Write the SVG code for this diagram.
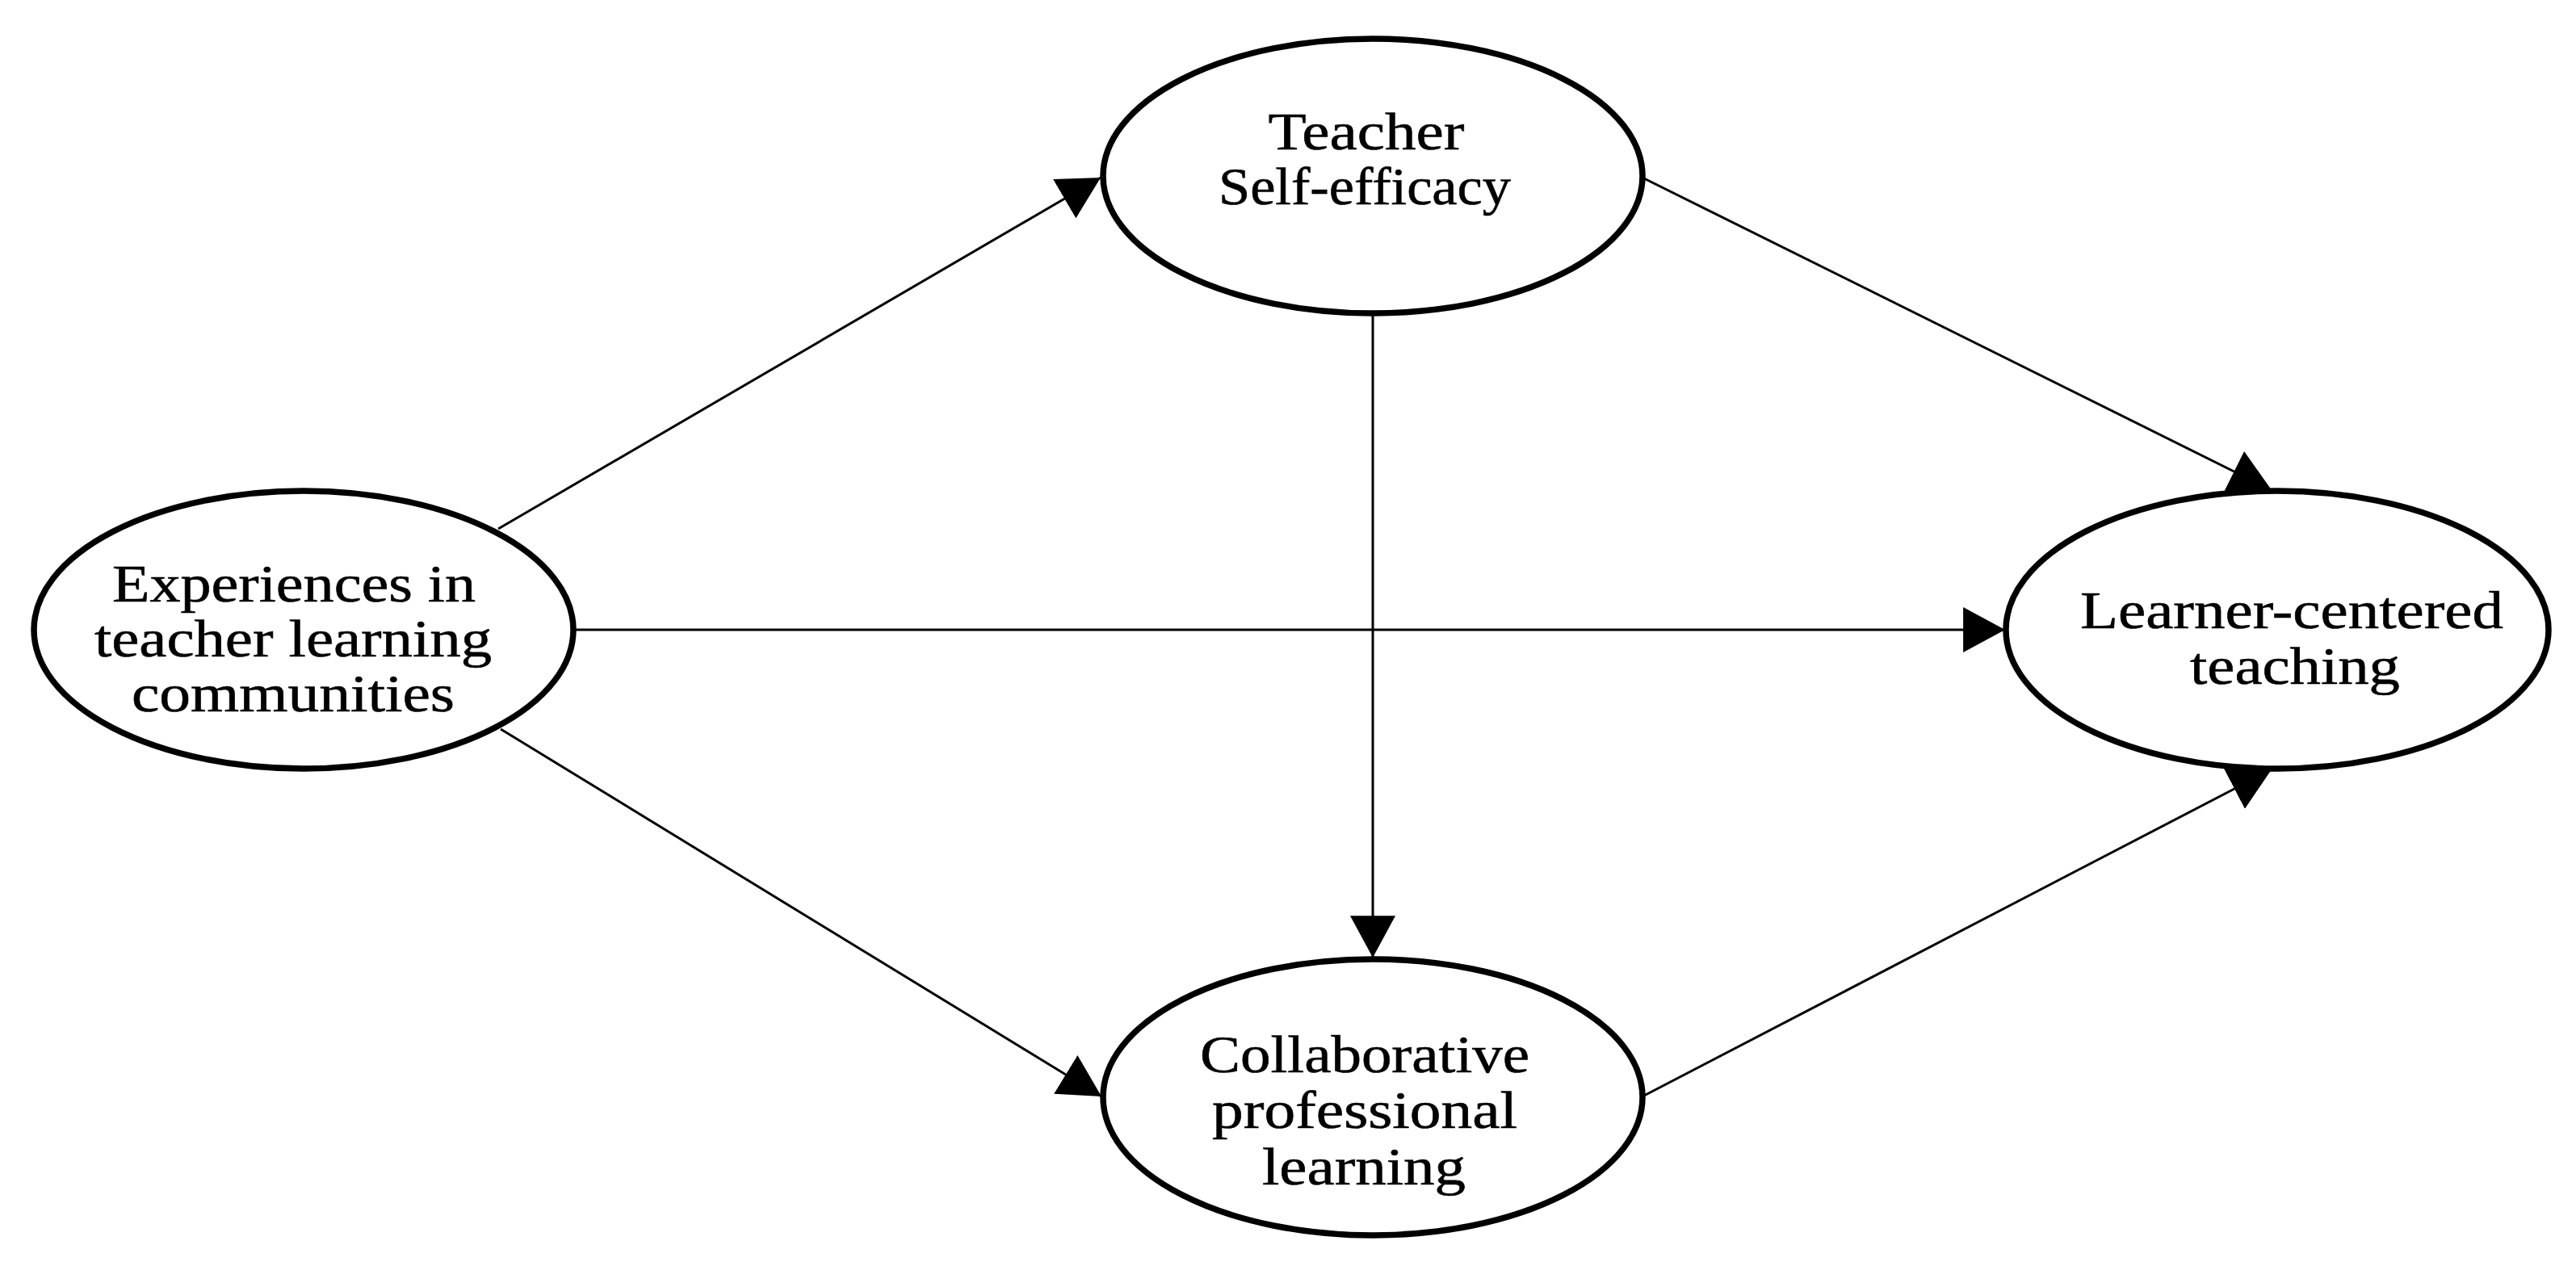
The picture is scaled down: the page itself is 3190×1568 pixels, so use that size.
<svg xmlns="http://www.w3.org/2000/svg" width="3190" height="1568" viewBox="0 0 3190 1568">
  <style>
    .node ellipse { fill: #ffffff; stroke: #000000; stroke-width: 7.5; }
    .node text { font-family: "Liberation Serif", "Times New Roman", serif; font-size: 65px; fill: #000000; stroke: #000000; stroke-width: 0.6; text-anchor: middle; }
    .edge { stroke: #000000; stroke-width: 3; fill: none; marker-end: url(#arrow); }
  </style>
  <defs>
    <marker id="arrow" markerUnits="userSpaceOnUse" markerWidth="52" markerHeight="56" viewBox="0 0 50 54" refX="50" refY="27" orient="auto">
      <path d="M0,0 L50,27 L0,54 Z" fill="#000000"/>
    </marker>
  </defs>
  <rect x="0" y="0" width="3190" height="1568" fill="#ffffff"/>

  <g id="connectors">
    <line class="edge" x1="617" y1="655" x2="1363" y2="220"/>
    <line class="edge" x1="620" y1="903" x2="1364" y2="1358"/>
    <line class="edge" x1="710" y1="780" x2="2483" y2="780"/>
    <line class="edge" x1="1700" y1="389" x2="1700" y2="1186"/>
    <line class="edge" x1="2034" y1="220" x2="2813" y2="607"/>
    <line class="edge" x1="2034" y1="1358" x2="2813" y2="953"/>
  </g>

  <g id="node-experiences" class="node">
    <ellipse cx="376" cy="780" rx="334" ry="172"/>
    <text x="364" y="745" textLength="450" lengthAdjust="spacingAndGlyphs">Experiences in</text>
    <text x="363" y="813" textLength="492" lengthAdjust="spacingAndGlyphs">teacher learning</text>
    <text x="363" y="881" textLength="400" lengthAdjust="spacingAndGlyphs">communities</text>
  </g>

  <g id="node-teacher" class="node">
    <ellipse cx="1700" cy="218" rx="334" ry="170"/>
    <text x="1692" y="185" textLength="243" lengthAdjust="spacingAndGlyphs">Teacher</text>
    <text x="1690" y="253" textLength="362" lengthAdjust="spacingAndGlyphs">Self-efficacy</text>
  </g>

  <g id="node-collaborative" class="node">
    <ellipse cx="1700" cy="1359" rx="334" ry="171"/>
    <text x="1690" y="1328" textLength="408" lengthAdjust="spacingAndGlyphs">Collaborative</text>
    <text x="1690" y="1397" textLength="378" lengthAdjust="spacingAndGlyphs">professional</text>
    <text x="1689" y="1467" textLength="252" lengthAdjust="spacingAndGlyphs">learning</text>
  </g>

  <g id="node-learner" class="node">
    <ellipse cx="2820" cy="780" rx="336" ry="172"/>
    <text x="2838" y="778" textLength="524" lengthAdjust="spacingAndGlyphs">Learner-centered</text>
    <text x="2842" y="847" textLength="260" lengthAdjust="spacingAndGlyphs">teaching</text>
  </g>
</svg>
